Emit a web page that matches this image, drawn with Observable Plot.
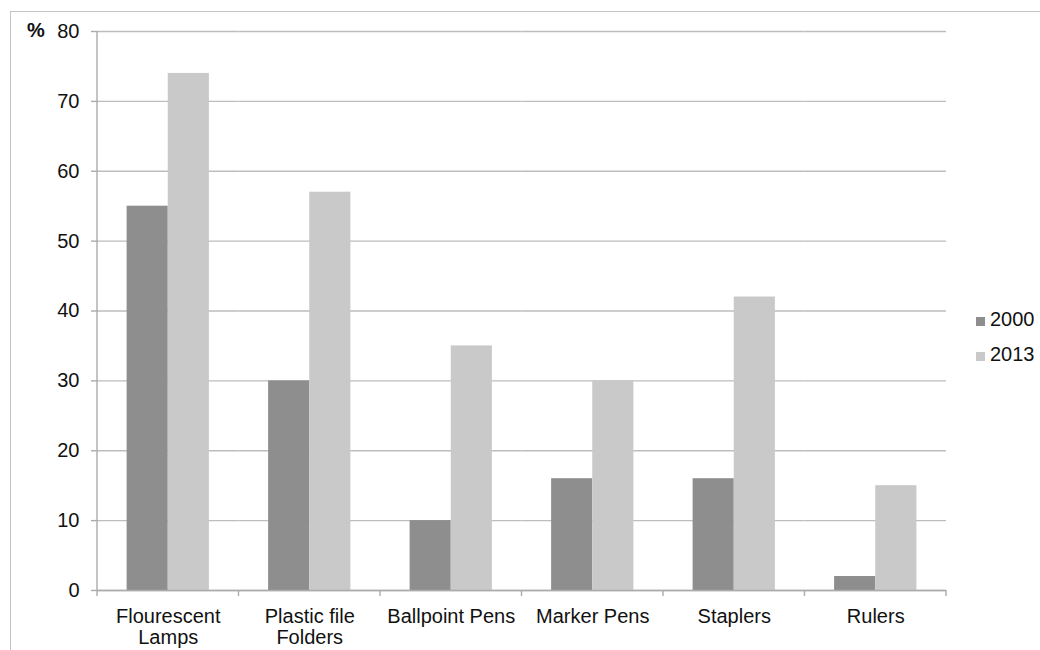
<!DOCTYPE html>
<html>
<head>
<meta charset="utf-8">
<script src="https://cdn.jsdelivr.net/npm/d3@7"></script>
<script src="https://cdn.jsdelivr.net/npm/@observablehq/plot@0.6"></script>
<style>
  html, body { margin: 0; padding: 0; background: #fff; }
  #wrap { position: relative; width: 1040px; height: 650px; overflow: hidden; font-family: "Liberation Sans", Arial, sans-serif; }
  #border { position: absolute; left: 10px; top: 11px; width: 1100px; height: 700px; border-left: 1.5px solid #c4c4c4; border-top: 1.5px solid #c4c4c4; }
  #chart { position: absolute; left: 0; top: 0; }
  #unit { position: absolute; left: 27px; top: 19px; font-size: 20px; font-weight: bold; color: #111; }
  #legend { position: absolute; left: 976px; top: 302px; font-size: 20px; color: #111; }
  #legend .item { display: flex; align-items: center; height: 35px; }
  #legend .sw { width: 9px; height: 9px; margin-right: 5px; margin-top: 3px; }
</style>
</head>
<body>
<div id="wrap">
  <div id="border"></div>
  <div id="chart"></div>
  <div id="unit">%</div>
  <div id="legend"></div>
</div>
<script>
const categories = ["Flourescent Lamps", "Plastic file Folders", "Ballpoint Pens", "Marker Pens", "Staplers", "Rulers"];
const categoryLabels = ["Flourescent\nLamps", "Plastic file\nFolders", "Ballpoint Pens", "Marker Pens", "Staplers", "Rulers"];
const years = ["2000", "2013"];
const values2000 = [55, 30, 10, 16, 16, 2];
const values2013 = [74, 57, 35, 30, 42, 15];
const yTicks = [0, 10, 20, 30, 40, 50, 60, 70, 80];
const colors = ["#8e8e8e", "#c9c9c9"];

const data = [];
categories.forEach((c, i) => {
  data.push({category: c, year: years[0], value: values2000[i]});
  data.push({category: c, year: years[1], value: values2013[i]});
});
const labelOf = new Map(categories.map((c, i) => [c, categoryLabels[i]]));

const chart = Plot.plot({
  width: 1040,
  height: 650,
  marginLeft: 97,
  marginRight: 94,
  marginTop: 31,
  marginBottom: 60,
  style: {fontFamily: "'Liberation Sans', Arial, sans-serif", fontSize: "20px", color: "#111", background: "transparent", overflow: "visible"},
  fx: {domain: categories, padding: 0, label: null, round: false},
  x: {domain: years, paddingInner: 0, paddingOuter: 0.72, round: false, axis: null},
  y: {domain: [0, 80]},
  color: {domain: years, range: colors},
  marks: [
    Plot.gridY(yTicks, {stroke: "#bdbdbd", strokeOpacity: 1, strokeWidth: 1.4}),
    Plot.barY(data, {fx: "category", x: "year", y: "value", fill: "year"}),
    Plot.ruleY([0], {stroke: "#ababab", strokeWidth: 1.4}),
    Plot.axisY(yTicks, {tickSize: 6, tickPadding: 12, label: null, stroke: "#ababab", strokeWidth: 1.4}),
    Plot.axisFx({anchor: "bottom", tickSize: 0, tickPadding: 17, label: null, lineHeight: 1.08, tickFormat: d => labelOf.get(d)})
  ]
});
document.getElementById("chart").appendChild(chart);

// axis line and category boundary ticks, placed through the plot's own scales
const fx = chart.scale("fx");
const y = chart.scale("y");
const svg = d3.select(chart);
const y0 = y.apply(0);
const g = svg.append("g").attr("stroke", "#ababab").attr("stroke-width", 1.4);
const bounds = categories.map(c => fx.apply(c)).concat([fx.apply(categories[categories.length - 1]) + fx.bandwidth]);
g.append("line").attr("x1", bounds[0]).attr("x2", bounds[0]).attr("y1", y.apply(80)).attr("y2", y0);
bounds.forEach(b => {
  g.append("line").attr("x1", b).attr("x2", b).attr("y1", y0).attr("y2", y0 + 6);
});

// legend
const legend = d3.select("#legend");
years.forEach((yr, i) => {
  const item = legend.append("div").attr("class", "item");
  item.append("div").attr("class", "sw").style("background", colors[i]);
  item.append("span").text(yr);
});
</script>
</body>
</html>
